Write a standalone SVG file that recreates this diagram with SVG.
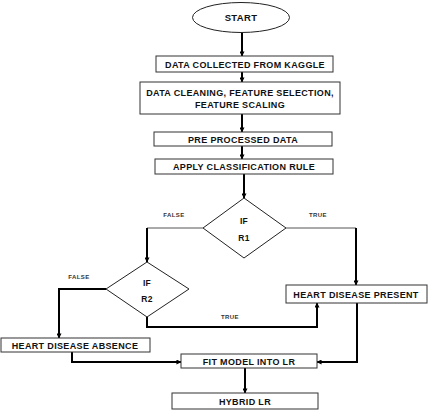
<svg xmlns="http://www.w3.org/2000/svg" width="432" height="412" viewBox="0 0 432 412">
  <defs>
    <marker id="arrow" viewBox="0 0 6 6" refX="5.5" refY="3" markerWidth="5" markerHeight="5" markerUnits="userSpaceOnUse" orient="auto">
      <path d="M0,0 L6,3 L0,6 z" fill="#000"/>
    </marker>
    <style>
      .box { fill: #fff; stroke: #333; stroke-width: 1; }
      .shape { fill: #fff; stroke: #222; stroke-width: 1; }
      .t { font-family: "Liberation Sans", Arial, sans-serif; font-weight: bold; font-size: 9px; fill: #111; text-anchor: middle; letter-spacing: 0.35px; }
      .d { font-family: "Liberation Sans", Arial, sans-serif; font-weight: bold; font-size: 8.5px; fill: #111; text-anchor: middle; letter-spacing: 0.3px; }
      .lbl { font-family: "Liberation Sans", Arial, sans-serif; font-weight: bold; font-size: 6px; fill: #333; text-anchor: middle; letter-spacing: 0.4px; }
      .thick { fill: none; stroke: #000; stroke-width: 2; }
      .thin { fill: none; stroke: #555; stroke-width: 1; }
    </style>
  </defs>
  <rect width="432" height="412" fill="#fff"/>

  <g id="connectors">
    <line class="thick" x1="242" y1="33" x2="242" y2="56" marker-end="url(#arrow)"/>
    <line class="thick" x1="242" y1="72" x2="242" y2="82" marker-end="url(#arrow)"/>
    <line class="thick" x1="242" y1="114" x2="242" y2="132" marker-end="url(#arrow)"/>
    <line class="thick" x1="242" y1="146" x2="242" y2="159" marker-end="url(#arrow)"/>
    <line class="thick" x1="244" y1="174" x2="244" y2="198" marker-end="url(#arrow)"/>
    <!-- R1 false branch -->
    <polyline class="thin" points="203,228 147,228"/>
    <line class="thick" x1="147" y1="228" x2="147" y2="262" marker-end="url(#arrow)"/>
    <!-- R1 true branch -->
    <polyline class="thin" points="286,228 356,228"/>
    <line class="thick" x1="356" y1="228" x2="356" y2="285" marker-end="url(#arrow)"/>
    <!-- R2 false branch -->
    <polyline class="thick" points="106,289 59,289 59,338" marker-end="url(#arrow)"/>
    <!-- R2 true branch -->
    <polyline class="thick" points="147,317 147,327 317,327 317,303" marker-end="url(#arrow)"/>
    <!-- results into model -->
    <polyline class="thick" points="72,352 72,362 181,362" marker-end="url(#arrow)"/>
    <polyline class="thick" points="357,303 357,362 317,362" marker-end="url(#arrow)"/>
    <line class="thick" x1="245" y1="368" x2="245" y2="393" marker-end="url(#arrow)"/>
    <text class="lbl" x="174" y="217">FALSE</text>
    <text class="lbl" x="318" y="217">TRUE</text>
    <text class="lbl" x="79" y="279">FALSE</text>
    <text class="lbl" x="230" y="319">TRUE</text>
  </g>

  <g id="start">
    <ellipse class="shape" cx="241" cy="17.5" rx="48.5" ry="15"/>
    <text class="t" x="241" y="21" style="font-size:9.5px">START</text>
  </g>

  <g id="collect">
    <rect class="box" x="156" y="56" width="177" height="16"/>
    <text class="t" x="245" y="67.5">DATA COLLECTED FROM KAGGLE</text>
  </g>

  <g id="clean">
    <rect class="box" x="140" y="82" width="200" height="32"/>
    <text class="t" x="240" y="96">DATA CLEANING, FEATURE SELECTION,</text>
    <text class="t" x="240" y="108">FEATURE SCALING</text>
  </g>

  <g id="preprocessed">
    <rect class="box" x="154" y="132" width="178" height="14"/>
    <text class="t" x="243" y="142.5">PRE PROCESSED DATA</text>
  </g>

  <g id="classify">
    <rect class="box" x="155" y="159" width="178" height="15"/>
    <text class="t" x="244" y="170">APPLY CLASSIFICATION RULE</text>
  </g>

  <g id="r1">
    <polygon class="shape" points="244,198 286,228 244,258 203,228"/>
    <text class="d" x="244" y="224">IF</text>
    <text class="d" x="244" y="241">R1</text>
  </g>

  <g id="r2">
    <polygon class="shape" points="147,262 189,289 147,317 106,289"/>
    <text class="d" x="147" y="286">IF</text>
    <text class="d" x="147" y="302">R2</text>
  </g>

  <g id="present">
    <rect class="box" x="286" y="285" width="141" height="18"/>
    <text class="t" x="356" y="297.5">HEART DISEASE PRESENT</text>
  </g>

  <g id="absence">
    <rect class="box" x="1" y="338" width="149" height="14"/>
    <text class="t" x="75" y="348.5">HEART DISEASE ABSENCE</text>
  </g>

  <g id="fit">
    <rect class="box" x="181" y="354" width="136" height="14"/>
    <text class="t" x="249" y="364.5">FIT MODEL INTO LR</text>
  </g>

  <g id="hybrid">
    <rect class="box" x="172" y="393" width="146" height="16"/>
    <text class="t" x="245" y="404.5">HYBRID LR</text>
  </g>
</svg>
